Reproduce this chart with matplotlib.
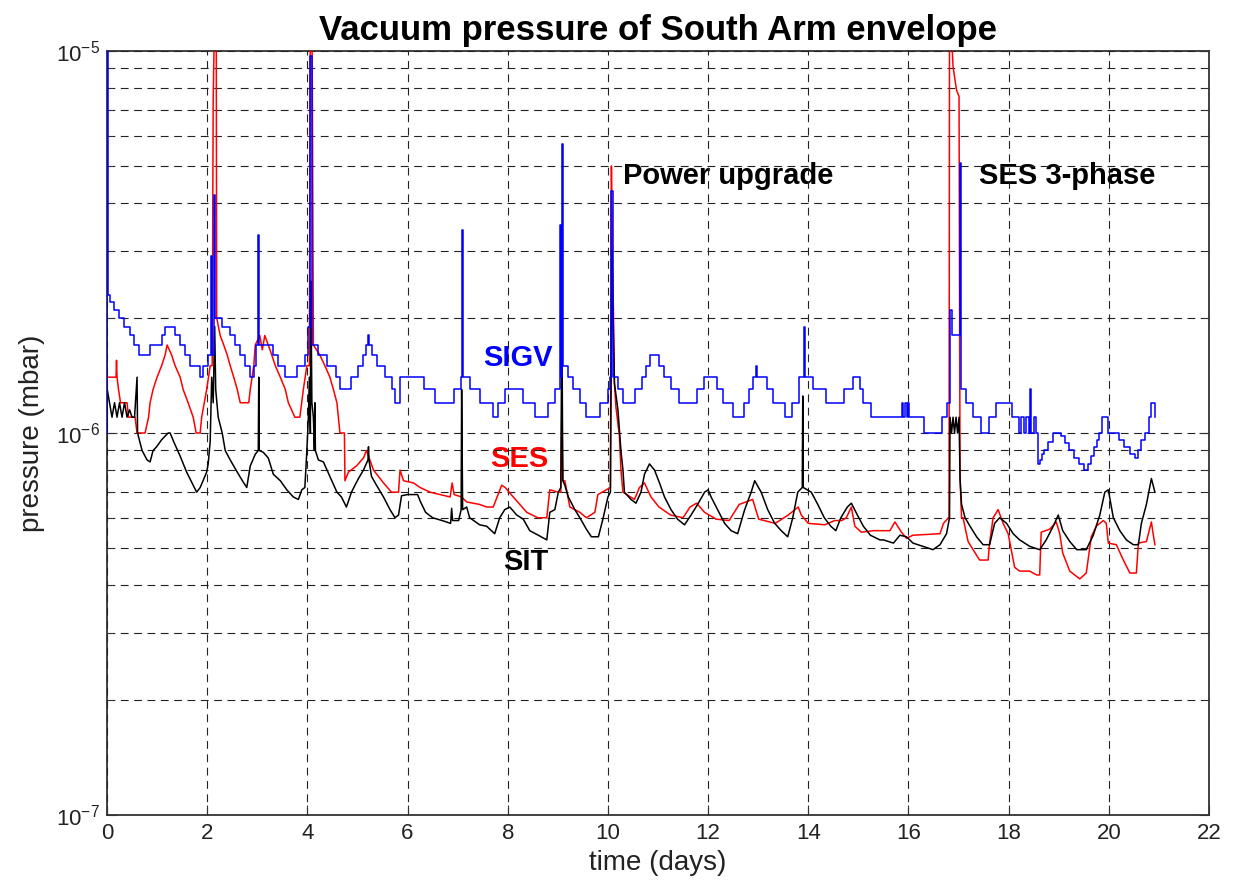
import numpy as np
import matplotlib
matplotlib.use("Agg")
import matplotlib.pyplot as plt
from matplotlib.ticker import LogLocator, NullFormatter, FixedLocator

plt.rcParams['font.family'] = ['Liberation Sans', 'DejaVu Sans']
plt.rcParams['mathtext.fontset'] = 'custom'
plt.rcParams['mathtext.rm'] = 'Liberation Sans'
plt.rcParams['mathtext.it'] = 'Liberation Sans'
plt.rcParams['axes.unicode_minus'] = False

# ---------------- data (pressure in units of 1e-7 mbar, time in days) -------------
sigv_t = [0.00, 0.005, 0.01, 0.06, 0.13, 0.23, 0.33, 0.46, 0.53, 0.63, 0.86, 1.09, 1.16, 1.36, 1.46,
          1.56, 1.66, 1.86, 1.92, 2.02, 2.08, 2.10, 2.13, 2.16, 2.30, 2.45, 2.55, 2.65, 2.75, 2.85,
          2.93, 2.98, 3.02, 3.04, 3.32, 3.42, 3.55, 3.80, 3.95, 4.02, 4.05, 4.10, 4.22, 4.40, 4.58,
          4.65, 4.88, 5.02, 5.12, 5.18, 5.21, 5.23, 5.30, 5.40, 5.55, 5.68, 5.75, 5.85, 6.32, 6.55,
          6.93, 7.06, 7.08, 7.10, 7.24, 7.44, 7.71, 7.80, 7.94, 8.31, 8.54, 8.81, 8.94, 9.04, 9.05,
          9.07, 9.09, 9.11, 9.21, 9.31, 9.44, 9.57, 9.84, 10.00, 10.05, 10.07, 10.10, 10.20, 10.30,
          10.55, 10.68, 10.76, 10.84, 11.02, 11.12, 11.25, 11.42, 11.78, 11.92, 12.17, 12.30, 12.50,
          12.72, 12.82, 12.90, 12.95, 12.97, 13.17, 13.30, 13.53, 13.68, 13.82, 13.92, 13.94, 14.10,
          14.35, 14.72, 14.90, 15.03, 15.10, 15.25, 15.87, 15.90, 15.93, 15.97, 16.00, 16.02, 16.32,
          16.66, 16.76, 16.82, 16.86, 17.02, 17.05, 17.15, 17.28, 17.45, 17.60, 17.74, 18.06, 18.20,
          18.25, 18.30, 18.35, 18.40, 18.43, 18.45, 18.50, 18.55, 18.58, 18.62, 18.66, 18.70, 18.78,
          18.88, 19.05, 19.12, 19.20, 19.30, 19.40, 19.50, 19.58, 19.64, 19.70, 19.76, 19.80, 19.87,
          19.99, 20.12, 20.20, 20.30, 20.42, 20.52, 20.58, 20.65, 20.72, 20.80, 20.85, 20.92, 20.93]
sigv_p = [10, 100, 23, 22, 21, 20, 19, 18, 17, 16, 17, 18, 19, 18, 17,
          16, 15, 14, 15, 16, 29, 16, 42, 20, 19, 18, 17, 16, 15, 14,
          15, 17, 33, 17, 16, 15, 14, 15, 16, 19, 97, 17, 16, 15, 14,
          13, 14, 15, 16, 17, 18, 17, 16, 15, 14, 13, 12, 14, 13, 12,
          13, 14, 34, 14, 13, 12, 11, 12, 13, 12, 11, 12, 13, 14, 35,
          14, 57, 15, 14, 13, 12, 11, 12, 13, 14, 43, 14, 13, 12,
          13, 14, 15, 16, 15, 14, 13, 12, 13, 14, 13, 12, 11,
          12, 13, 14, 15, 14, 13, 12, 11, 12, 14, 19, 14, 13,
          12, 13, 14, 13, 12, 11, 12, 11, 12, 11, 12, 11, 10,
          11, 12, 21, 18, 51, 13, 12, 11, 10, 11, 12, 11, 10,
          11, 10, 11, 10, 13, 10, 11, 10, 8.3, 8.5, 8.8, 9.0, 9.5,
          10, 9.8, 9.4, 9.0, 8.6, 8.3, 8.0, 8.3, 8.7, 9.2, 9.6, 10, 11,
          10, 10, 9.6, 9.2, 8.8, 8.6, 9.0, 9.6, 10, 11, 12, 11, 11]

ses_t = [0.00, 0.18, 0.19, 0.20, 0.23, 0.27, 0.40, 0.43, 0.56, 0.60, 0.76, 0.83, 0.86, 0.92, 1.00,
         1.09, 1.16, 1.20, 1.29, 1.36, 1.46, 1.52, 1.62, 1.72, 1.78, 1.86, 1.89, 1.99, 2.06, 2.10,
         2.12, 2.15, 2.18, 2.19, 2.26, 2.33, 2.40, 2.46, 2.53, 2.60, 2.66, 2.83, 2.86, 2.93, 2.96,
         3.05, 3.10, 3.15, 3.22, 3.29, 3.36, 3.46, 3.56, 3.62, 3.75, 3.85, 3.92, 3.99, 4.04, 4.06,
         4.09, 4.10, 4.12, 4.25, 4.35, 4.45, 4.52, 4.59, 4.65, 4.74, 4.75, 4.82, 4.98, 5.12, 5.18,
         5.32, 5.52, 5.68, 5.82, 5.85, 5.92, 6.12, 6.25, 6.45, 6.65, 6.85, 6.89, 6.93, 7.08, 7.18,
         7.44, 7.58, 7.71, 7.88, 7.95, 8.11, 8.38, 8.60, 8.78, 8.84, 9.01, 9.06, 9.08, 9.10, 9.14,
         9.24, 9.44, 9.57, 9.74, 9.80, 10.05, 10.07, 10.09, 10.11, 10.13, 10.16, 10.23, 10.26, 10.30,
         10.53, 10.63, 10.73, 10.86, 11.02, 11.25, 11.50, 11.64, 11.77, 11.93, 12.16, 12.42, 12.62,
         12.89, 13.01, 13.34, 13.60, 13.80, 13.86, 14.00, 14.33, 14.53, 14.67, 14.76, 14.86, 14.93,
         15.06, 15.30, 15.63, 15.73, 15.86, 15.96, 16.09, 16.63, 16.70, 16.80, 16.81, 16.82, 16.86,
         16.89, 16.96, 17.01, 17.03, 17.06, 17.09, 17.19, 17.29, 17.42, 17.59, 17.62, 17.69, 17.79,
         17.89, 17.99, 18.12, 18.22, 18.42, 18.56, 18.62, 18.65, 18.82, 18.95, 19.02, 19.08, 19.22,
         19.42, 19.55, 19.65, 19.75, 19.89, 19.95, 19.99, 20.15, 20.29, 20.42, 20.55, 20.59, 20.75,
         20.85, 20.88, 20.92]
ses_p = [14, 14, 15.5, 14, 13, 12, 12, 11, 11, 10, 10, 11, 12, 13, 14,
         15, 16, 17, 16, 15, 14, 13, 12, 11, 10, 10, 11, 13, 15, 15,
         75, 130, 130, 20, 18, 17, 16, 15, 14, 13, 12, 12, 13, 15, 17,
         18, 16.5, 18, 17, 16, 15, 14, 13, 12, 11, 11, 13, 15, 15, 130,
         130, 76, 17, 16, 15, 14, 13, 12, 10, 10, 7.5, 7.9, 8.2, 8.6, 9.0,
         8.0, 7.4, 7.0, 7.0, 8.0, 7.5, 7.4, 7.2, 7.0, 6.9, 6.8, 7.4, 6.9, 6.8, 6.6,
         6.5, 6.4, 6.4, 7.3, 7.2, 6.8, 6.2, 6.0, 6.0, 7.1, 7.0, 7.0, 11.5, 7.5, 7.5,
         6.4, 6.2, 6.0, 6.2, 6.9, 7.2, 50, 29, 21, 13.5, 11.7, 9.8, 8.0, 7.0,
         6.7, 7.2, 7.4, 6.8, 6.4, 6.1, 6.0, 6.4, 6.55, 6.2, 5.95, 5.9, 6.5,
         6.7, 5.95, 5.8, 6.1, 6.4, 6.1, 5.8, 5.75, 5.9, 5.9, 6.0, 6.4, 5.7,
         5.5, 5.55, 5.55, 5.85, 5.5, 5.3, 5.4, 5.45, 5.8, 6.0, 6.0, 130, 110,
         91, 79, 76, 7.6, 6.0, 6.0, 5.2, 4.95, 4.65, 4.65, 5.15, 6.0, 6.3,
         5.8, 5.45, 4.45, 4.35, 4.35, 4.25, 4.25, 5.5, 5.6, 5.85, 5.45, 4.85, 4.35,
         4.15, 4.3, 5.35, 5.7, 5.9, 5.8, 5.15, 5.1, 4.65, 4.3, 4.3, 5.15, 5.2,
         5.85, 5.5, 5.1]

sit_t = [0.00, 0.005, 0.05, 0.10, 0.15, 0.20, 0.25, 0.30, 0.35, 0.40, 0.45, 0.50, 0.55, 0.60, 0.61,
         0.70, 0.80, 0.86, 0.92, 0.99, 1.09, 1.22, 1.26, 1.33, 1.46, 1.59, 1.72, 1.79, 1.86, 1.99,
         2.02, 2.06, 2.09, 2.12, 2.15, 2.17, 2.22, 2.26, 2.30, 2.36, 2.46, 2.60, 2.73, 2.79, 2.86,
         2.96, 3.02, 3.03, 3.04, 3.12, 3.22, 3.32, 3.46, 3.59, 3.72, 3.82, 3.89, 3.95, 3.99, 4.02,
         4.04, 4.06, 4.07, 4.09, 4.12, 4.14, 4.15, 4.16, 4.22, 4.32, 4.45, 4.59, 4.68, 4.78, 4.88,
         5.02, 5.12, 5.21, 5.22, 5.23, 5.28, 5.38, 5.52, 5.65, 5.75, 5.82, 5.88, 6.00, 6.20, 6.26,
         6.36, 6.50, 6.69, 6.86, 6.88, 6.90, 7.02, 7.07, 7.08, 7.10, 7.18, 7.24, 7.44, 7.58, 7.74,
         7.84, 7.94, 8.04, 8.18, 8.31, 8.44, 8.61, 8.78, 8.84, 8.94, 9.01, 9.06, 9.08, 9.10, 9.14,
         9.21, 9.34, 9.44, 9.57, 9.67, 9.81, 9.90, 10.00, 10.05, 10.08, 10.10, 10.13, 10.20, 10.26,
         10.30, 10.33, 10.46, 10.56, 10.66, 10.73, 10.83, 10.93, 11.03, 11.13, 11.26, 11.39, 11.53,
         11.66, 11.79, 11.93, 12.00, 12.06, 12.19, 12.33, 12.46, 12.59, 12.73, 12.86, 12.93, 13.06,
         13.19, 13.33, 13.46, 13.59, 13.69, 13.79, 13.88, 13.89, 13.90, 14.06, 14.19, 14.32, 14.45,
         14.55, 14.65, 14.78, 14.86, 14.98, 15.10, 15.24, 15.43, 15.50, 15.70, 15.83, 15.96, 16.09,
         16.29, 16.49, 16.63, 16.76, 16.82, 16.83, 16.86, 16.89, 16.92, 16.95, 16.98, 17.01, 17.03,
         17.06, 17.13, 17.23, 17.36, 17.49, 17.62, 17.72, 17.82, 17.96, 18.09, 18.22, 18.42, 18.62,
         18.75, 18.89, 18.99, 19.08, 19.22, 19.36, 19.55, 19.69, 19.82, 19.92, 19.99, 20.09, 20.22,
         20.35, 20.49, 20.59, 20.65, 20.75, 20.85, 20.92]
sit_p = [10, 13, 12, 11, 12, 11, 12, 11, 12, 11, 11.5, 11, 11, 14, 10,
         9.0, 8.5, 8.4, 9.0, 9.2, 9.6, 10, 10, 9.5, 8.7, 7.9, 7.3, 7.0, 7.2, 7.9,
         8.3, 9.5, 14, 12, 19, 13, 11, 10.5, 10, 9.0, 8.5, 7.9, 7.4, 7.2, 8.2,
         8.8, 9.0, 14, 9.0, 8.9, 8.6, 7.8, 7.5, 7.1, 6.8, 6.7, 7.1, 7.2, 9.0, 11,
         14, 10, 25, 12, 11, 9.0, 12, 9.0, 8.5, 8.4, 7.7, 7.0, 6.8, 6.4, 7.0,
         7.6, 8.0, 8.5, 9.2, 8.5, 7.7, 7.3, 6.8, 6.3, 6.0, 6.1, 6.85, 6.9, 6.9, 6.6,
         6.2, 6.0, 5.9, 5.8, 6.35, 5.9, 5.9, 6.3, 13, 6.3, 6.4, 6.0, 5.75, 5.7, 5.45,
         6.0, 6.3, 6.4, 6.1, 5.95, 5.55, 5.4, 5.25, 6.2, 6.3, 7.0, 7.2, 20, 7.5, 7.3,
         6.8, 6.3, 6.0, 5.6, 5.35, 5.35, 5.95, 6.8, 7.0, 30, 21, 13.5, 11.5, 9.0,
         8.0, 7.0, 6.7, 6.55, 7.0, 7.8, 8.3, 8.0, 7.4, 6.8, 6.3, 5.95, 5.75,
         6.1, 6.5, 7.0, 7.1, 6.8, 6.3, 5.8, 5.55, 5.45, 6.3, 7.0, 7.5, 7.0,
         6.3, 5.8, 5.55, 5.35, 6.0, 7.0, 7.2, 12.5, 7.2, 7.0, 6.5, 6.0, 5.7,
         5.55, 6.0, 6.4, 6.55, 6.1, 5.7, 5.4, 5.25, 5.25, 5.15, 5.4, 5.35, 5.15,
         5.05, 4.95, 5.1, 5.45, 6.0, 11, 10, 11, 10, 11, 10, 11, 7.6,
         6.5, 6.0, 5.7, 5.35, 5.1, 5.1, 5.8, 6.0, 5.8, 5.45, 5.25, 5.05, 4.95,
         5.25, 5.7, 6.1, 5.55, 5.2, 4.95, 4.95, 5.4, 6.1, 7.0, 7.1, 6.0, 5.55,
         5.25, 5.1, 5.1, 5.8, 6.5, 7.6, 7.0]

UNIT = 1e-7
x_ticks = [0, 2, 4, 6, 8, 10, 12, 14, 16, 18, 20, 22]
title = "Vacuum pressure of South Arm envelope"
notes = [("Power upgrade", 10.30, 47e-7, "black"),
         ("SES 3-phase", 17.40, 47e-7, "black"),
         ("SIGV", 7.52, 15.7e-7, "#0000ff"),
         ("SES", 7.64, 8.55e-7, "#ff0000"),
         ("SIT", 7.90, 4.6e-7, "black")]

# ---------------- figure -------------
fig = plt.figure(figsize=(12.33, 8.84), dpi=100)
ax = fig.add_axes([107 / 1233, 1 - 815 / 884, (1209 - 107) / 1233, (815 - 51) / 884])

ax.plot(ses_t, np.array(ses_p) * UNIT, color="#ff0000", lw=1.1, zorder=3)
ax.plot(sit_t, np.array(sit_p) * UNIT, color="black", lw=1.1, zorder=3.1)
ax.plot(sigv_t, np.array(sigv_p) * UNIT, color="#0000ff", lw=1.1, drawstyle="steps-post", zorder=3.2)

ax.set_yscale("log")
ax.set_ylim(1e-7, 1e-5)
ax.set_xlim(0, 22)
ax.xaxis.set_major_locator(FixedLocator(x_ticks))
ax.yaxis.set_major_locator(LogLocator(base=10, numticks=10))
ax.yaxis.set_minor_locator(LogLocator(base=10, subs=np.arange(2, 10), numticks=20))
ax.yaxis.set_minor_formatter(NullFormatter())

ax.set_axisbelow(False)
ax.grid(True, which="both", axis="y", color="#222222", linestyle=(0, (7, 5)), lw=0.8)
ax.grid(True, which="major", axis="x", color="#222222", linestyle=(0, (7, 5)), lw=0.8)

for s in ax.spines.values():
    s.set_color("#333333")
    s.set_linewidth(1.3)
ax.tick_params(which="both", direction="in", colors="#333333", labelcolor="#222222",
               labelsize=16, top=False, right=True)
ax.tick_params(which="major", length=7)
ax.tick_params(which="minor", length=4)
ax.tick_params(axis="x", pad=6)
ax.tick_params(axis="y", pad=5)

ax.set_xlabel("time (days)", fontsize=20, color="#222222", labelpad=4)
ax.set_ylabel("pressure (mbar)", fontsize=20, color="#222222", labelpad=8)
ax.set_title(title, fontsize=25, fontweight="bold", pad=8)

for txt, x, y, c in notes:
    ax.text(x, y, txt, color=c, fontsize=21, fontweight="bold", ha="left", va="center", zorder=2)

fig.savefig("out.png", dpi=100)
